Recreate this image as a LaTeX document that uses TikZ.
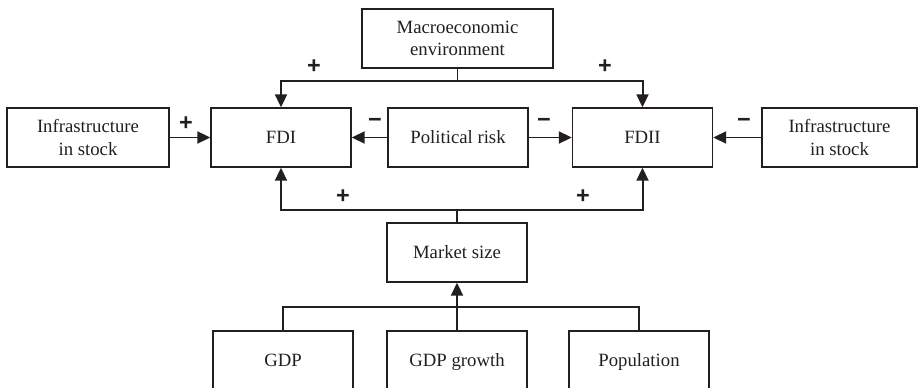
\documentclass[tikz,border=0pt]{standalone}
\usepackage{fontspec}
\setmainfont{Liberation Serif}
\setsansfont{Liberation Sans}
\usetikzlibrary{arrows.meta}
\definecolor{ink}{HTML}{231F20}
\tikzset{
	box/.style={draw=ink, text=ink, line width=1.2pt, minimum width=42mm, minimum height=17.7mm, align=center, inner sep=0pt, font=\fontsize{16}{19}\selectfont},
	oneline/.style={box, text height=14pt, text depth=3.4pt},
	link/.style={draw=ink, line width=1.7pt},
	linkto/.style={link, -{Triangle[length=3.9mm,width=3.6mm]}},
	sign/.style={text=ink, inner sep=0pt, font=\sffamily\bfseries\fontsize{20}{20}\selectfont}
}
\begin{document}
\begin{tikzpicture}[x=0.3mm,y=-0.3mm]
	\useasboundingbox (0,0) rectangle (918,388);
	\clip (0,0) rectangle (918,388);
	\node[box, minimum width=57.3mm] (macro) at (457.5,38.5) {Macroeconomic\\environment};
	\node[box, minimum width=48.6mm] (infraleft) at (88,137.5) {Infrastructure\\in stock};
	\node[oneline] (fdi) at (281,137.5) {FDI};
	\node[oneline] (risk) at (458,137.5) {Political risk};
	\node[oneline] (fdii) at (642.5,137.5) {FDII};
	\node[box, minimum width=46.5mm] (infraright) at (839.5,137.5) {Infrastructure\\in stock};
	\node[oneline] (market) at (457,252.5) {Market size};
	\node[oneline] (gdp) at (283,360.5) {GDP};
	\node[oneline] (growth) at (457,360.5) {GDP growth};
	\node[oneline] (population) at (639,360.5) {Population};

	\coordinate (macrojoin) at (457.5,81);
	\coordinate (marketjoin) at (457,210);
	\coordinate (basejoin) at (457,307);

	\draw[link] (macro.south) -- (macrojoin);
	\draw[linkto] (macrojoin) -| (fdi.north);
	\draw[linkto] (macrojoin) -| (fdii.north);
	\draw[linkto] (infraleft.east) -- (fdi.west);
	\draw[linkto] (risk.west) -- (fdi.east);
	\draw[linkto] (risk.east) -- (fdii.west);
	\draw[linkto] (infraright.west) -- (fdii.east);
	\draw[link] (market.north) -- (marketjoin);
	\draw[linkto] (marketjoin) -| (fdi.south);
	\draw[linkto] (marketjoin) -| (fdii.south);
	\draw[link] (gdp.north) |- (basejoin) -| (population.north);
	\draw[linkto] (growth.north) -- (market.south);

	\node[sign] (plusmacrofdi) at (314,67) {+};
	\node[sign] (plusmacrofdii) at (605,67) {+};
	\node[sign] (plusinfra) at (186,124) {+};
	\node[sign] (minusriskfdi) at (375,123) {−};
	\node[sign] (minusriskfdii) at (544,123) {−};
	\node[sign] (minusinfra) at (744,123) {−};
	\node[sign] (plusmarketfdi) at (343,197) {+};
	\node[sign] (plusmarketfdii) at (583,197) {+};
\end{tikzpicture}
\end{document}
